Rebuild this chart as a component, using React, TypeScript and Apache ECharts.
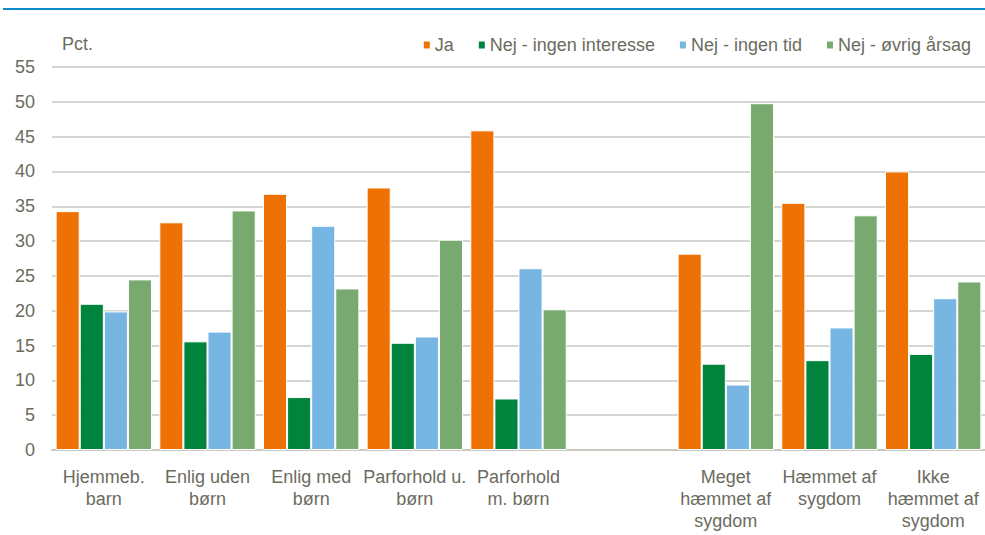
import React, { useEffect, useRef } from "react";
import * as echarts from "echarts";

const categories = [
  "Hjemmeb.\nbarn",
  "Enlig uden\nbørn",
  "Enlig med\nbørn",
  "Parforhold u.\nbørn",
  "Parforhold\nm. børn",
  "",
  "Meget\nhæmmet af\nsygdom",
  "Hæmmet af\nsygdom",
  "Ikke\nhæmmet af\nsygdom",
];

const seriesNames = ["Ja", "Nej - ingen interesse", "Nej - ingen tid", "Nej - øvrig årsag"];
const ja = [34.3, 32.7, 36.8, 37.7, 45.9, null, 28.2, 35.5, 40.0];
const nejInteresse = [21.0, 15.6, 7.6, 15.4, 7.4, null, 12.4, 12.9, 13.8];
const nejTid = [19.9, 17.0, 32.2, 16.3, 26.1, null, 9.4, 17.6, 21.8];
const nejOevrig = [24.5, 34.4, 23.2, 30.2, 20.2, null, 49.8, 33.7, 24.2];
const colors = ["#EE7203", "#00843D", "#77B5E3", "#78AA6F"];

const FONT = "'Liberation Sans', Arial, sans-serif";
const TXT = "#6B6B60";

export default function App() {
  const ref = useRef<HTMLDivElement>(null);
  useEffect(() => {
    if (!ref.current) return;
    const chart = echarts.init(ref.current, undefined, { renderer: "svg" });
    const data = [ja, nejInteresse, nejTid, nejOevrig];
    chart.setOption({
      animation: false,
      textStyle: { fontFamily: FONT },
      grid: { left: 52, right: 0, top: 67, bottom: 85, containLabel: false },
      legend: {
        top: 31,
        right: 9,
        itemWidth: 8,
        itemHeight: 9,
        itemGap: 23,
        icon: "rect",
        textStyle: { color: TXT, fontSize: 18, fontFamily: FONT, padding: [0, 0, 0, -1] },
        data: seriesNames,
      },
      graphic: [
        {
          type: "line",
          shape: { x1: 3, y1: 9, x2: 985, y2: 9 },
          style: { stroke: "#0C8BCB", lineWidth: 2 },
        },
        {
          type: "text",
          left: 62,
          top: 35,
          style: { text: "Pct.", fill: TXT, font: `18px ${FONT}` },
        },
      ],
      xAxis: {
        type: "category",
        data: categories,
        axisLine: { lineStyle: { color: "#C9C9C1", width: 2 } },
        axisTick: { show: false },
        axisLabel: {
          color: TXT,
          fontSize: 18,
          lineHeight: 22,
          margin: 16,
          interval: 0,
          fontFamily: FONT,
        },
      },
      yAxis: {
        type: "value",
        min: 0,
        max: 55,
        interval: 5,
        axisLine: { show: false },
        axisTick: { show: false },
        splitLine: { lineStyle: { color: "#C9C9C1", width: 1.5 } },
        axisLabel: { color: TXT, fontSize: 18, margin: 17, fontFamily: FONT },
      },
      series: seriesNames.map((name, i) => ({
        name,
        type: "bar",
        data: data[i],
        barGap: "0%",
        barCategoryGap: "7%",
        itemStyle: { color: colors[i], borderColor: "#ffffff", borderWidth: 1 },
      })),
    });
    return () => chart.dispose();
  }, []);
  return <div ref={ref} style={{ width: 985, height: 535, position: "absolute", left: 0, top: 0 }} />;
}
